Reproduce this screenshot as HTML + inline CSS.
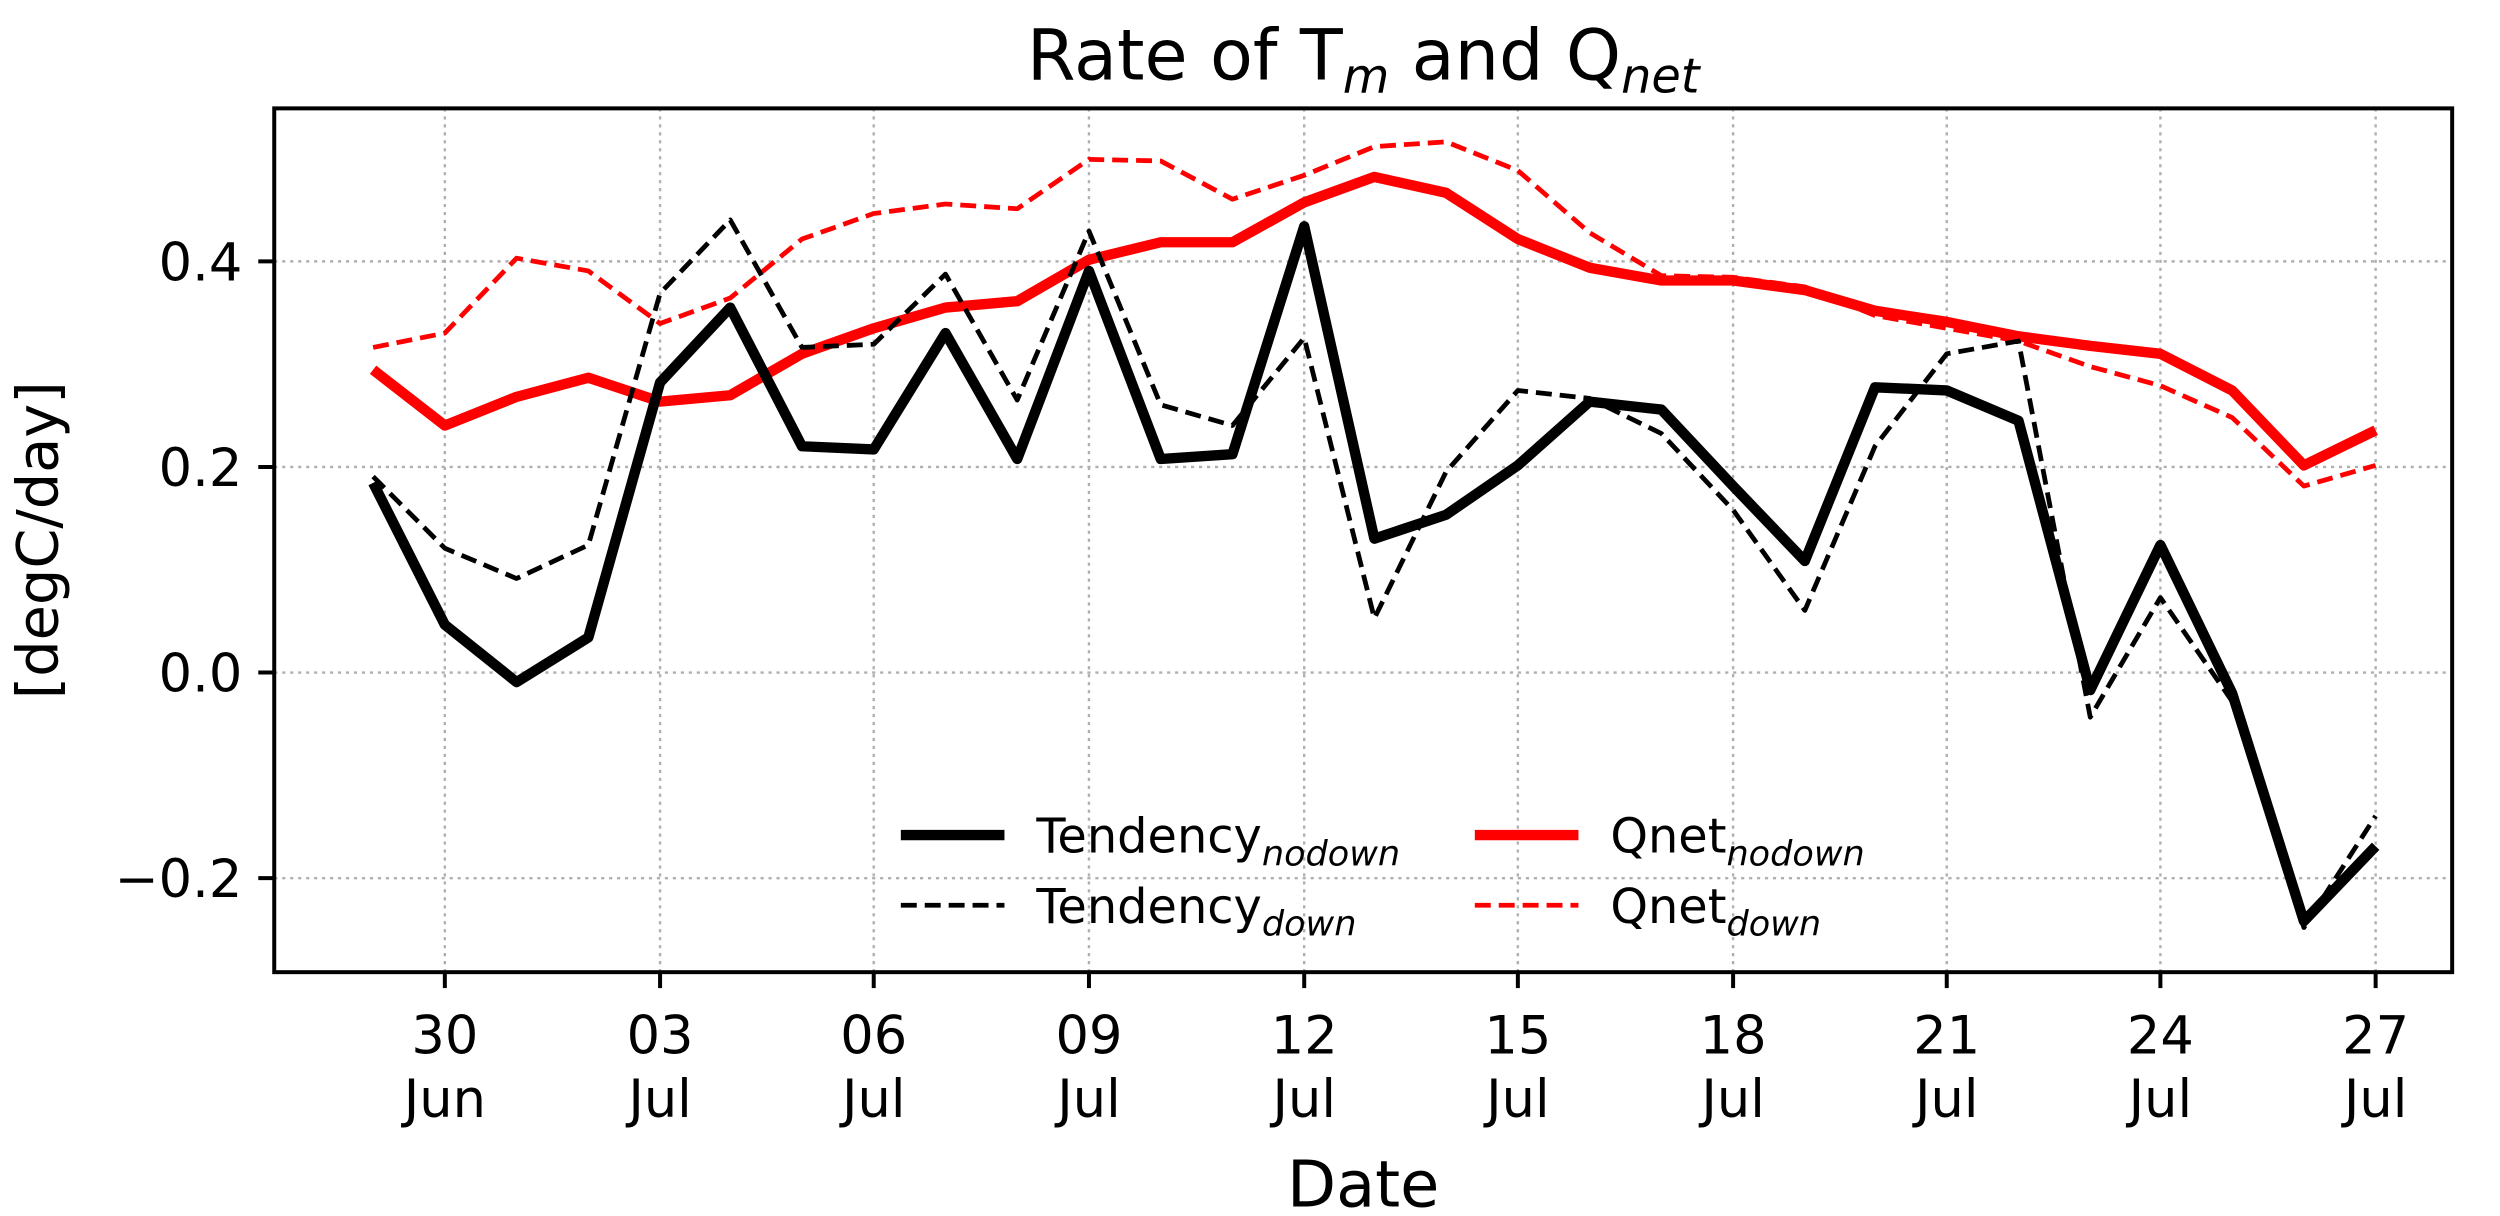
<!DOCTYPE html>
<html><head><meta charset="utf-8"><style>
html,body{margin:0;padding:0;background:#fff;}
svg{display:block;font-family:"DejaVu Sans","Liberation Sans",sans-serif;}
</style></head><body>
<svg width="2500" height="1216" viewBox="0 0 1568 763" preserveAspectRatio="none" xmlns="http://www.w3.org/2000/svg">
<rect width="1568" height="763" fill="#fff"/>
<g stroke="#b0b0b0" stroke-width="1.5" stroke-dasharray="2,3">
<line x1="279" y1="68" x2="279" y2="610"/><line x1="414" y1="68" x2="414" y2="610"/>
<line x1="548" y1="68" x2="548" y2="610"/><line x1="683" y1="68" x2="683" y2="610"/>
<line x1="818" y1="68" x2="818" y2="610"/><line x1="952" y1="68" x2="952" y2="610"/>
<line x1="1087" y1="68" x2="1087" y2="610"/><line x1="1221" y1="68" x2="1221" y2="610"/>
<line x1="1355" y1="68" x2="1355" y2="610"/><line x1="1490" y1="68" x2="1490" y2="610"/>
<line x1="172" y1="164" x2="1538" y2="164"/><line x1="172" y1="293" x2="1538" y2="293"/>
<line x1="172" y1="422" x2="1538" y2="422"/><line x1="172" y1="551" x2="1538" y2="551"/>
</g>
<g fill="none" stroke-linejoin="round">
<polyline stroke="#f00" stroke-width="3" stroke-dasharray="10,5" points="234,218 279,209 324,162 369,170 414,203 458,187 503,150 548,134 593,128 638,131 683,100 728,101 773,125 818,110 862,92 907,89 952,107 997,146 1042,173 1087,174 1132,180 1176,198 1221,206 1266,214 1311,230 1355,242 1400,262 1445,305 1490,292"/>
<polyline stroke="#f00" stroke-width="6.5" points="234,232 279,267 324,249 369,237 414,252 458,248 503,222 548,206 593,193 638,189 683,163 728,152 773,152 818,127 862,111 907,121 952,150 997,168 1042,176 1087,176 1132,182 1176,195 1221,202 1266,211 1311,217 1355,222 1400,245 1445,292 1490,270"/>
<polyline stroke="#000" stroke-width="3" stroke-dasharray="10,5" points="234,299 279,344 324,363 369,342 414,184 458,138 503,218 548,216 593,172 638,251 683,145 728,254 773,267 818,212 862,388 907,296 952,245 997,250 1042,272 1087,320 1132,383 1176,280 1221,222 1266,214 1311,450 1355,375 1400,440 1445,582 1490,512"/>
<polyline stroke="#000" stroke-width="6.5" points="234,303 279,392 324,428 369,400 414,240 458,193 503,280 548,282 593,209 638,288 683,170 728,288 773,285 818,142 862,338 907,323 952,292 997,252 1042,257 1087,305 1132,352 1176,243 1221,245 1266,264 1311,433 1355,342 1400,435 1445,578 1490,531"/>
</g>
<rect x="172" y="68" width="1366" height="542" fill="none" stroke="#000" stroke-width="2.5"/>
<g stroke="#000" stroke-width="2.5">
<line x1="279" y1="610" x2="279" y2="620"/><line x1="414" y1="610" x2="414" y2="620"/>
<line x1="548" y1="610" x2="548" y2="620"/><line x1="683" y1="610" x2="683" y2="620"/>
<line x1="818" y1="610" x2="818" y2="620"/><line x1="952" y1="610" x2="952" y2="620"/>
<line x1="1087" y1="610" x2="1087" y2="620"/><line x1="1221" y1="610" x2="1221" y2="620"/>
<line x1="1355" y1="610" x2="1355" y2="620"/><line x1="1490" y1="610" x2="1490" y2="620"/>
<line x1="162" y1="164" x2="172" y2="164"/><line x1="162" y1="293" x2="172" y2="293"/>
<line x1="162" y1="422" x2="172" y2="422"/><line x1="162" y1="551" x2="172" y2="551"/>
</g>
<g font-size="33" text-anchor="end" fill="#000">
<text x="152" y="176">0.4</text><text x="152" y="305">0.2</text>
<text x="152" y="434">0.0</text><text x="152" y="563">−0.2</text>
</g>
<g font-size="33" text-anchor="middle" fill="#000">
<text x="279" y="661">30</text><text x="279" y="701">Jun</text>
<text x="414" y="661">03</text><text x="414" y="701">Jul</text>
<text x="548" y="661">06</text><text x="548" y="701">Jul</text>
<text x="683" y="661">09</text><text x="683" y="701">Jul</text>
<text x="818" y="661">12</text><text x="818" y="701">Jul</text>
<text x="952" y="661">15</text><text x="952" y="701">Jul</text>
<text x="1087" y="661">18</text><text x="1087" y="701">Jul</text>
<text x="1221" y="661">21</text><text x="1221" y="701">Jul</text>
<text x="1355" y="661">24</text><text x="1355" y="701">Jul</text>
<text x="1490" y="661">27</text><text x="1490" y="701">Jul</text>
</g>
<text x="855" y="757" font-size="40" text-anchor="middle">Date</text>
<text transform="translate(36,339) rotate(-90)" font-size="36" text-anchor="middle">[degC/day]</text>
<text x="855" y="50" font-size="44" text-anchor="middle">Rate of T<tspan font-size="30" font-style="italic" dy="8">m</tspan><tspan dy="-8"> and Q</tspan><tspan font-size="30" font-style="italic" dy="8">net</tspan></text>
<g font-size="30">
<line x1="565" y1="524" x2="630" y2="524" stroke="#000" stroke-width="6.5"/>
<text x="650" y="535">Tendency<tspan font-size="22" font-style="italic" dy="8">nodown</tspan></text>
<line x1="565" y1="568" x2="630" y2="568" stroke="#000" stroke-width="3" stroke-dasharray="10,5"/>
<text x="650" y="579">Tendency<tspan font-size="22" font-style="italic" dy="8">down</tspan></text>
<line x1="925" y1="524" x2="990" y2="524" stroke="#f00" stroke-width="6.5"/>
<text x="1010" y="535">Qnet<tspan font-size="22" font-style="italic" dy="8">nodown</tspan></text>
<line x1="925" y1="568" x2="990" y2="568" stroke="#f00" stroke-width="3" stroke-dasharray="10,5"/>
<text x="1010" y="579">Qnet<tspan font-size="22" font-style="italic" dy="8">down</tspan></text>
</g>
</svg>
</body></html>
